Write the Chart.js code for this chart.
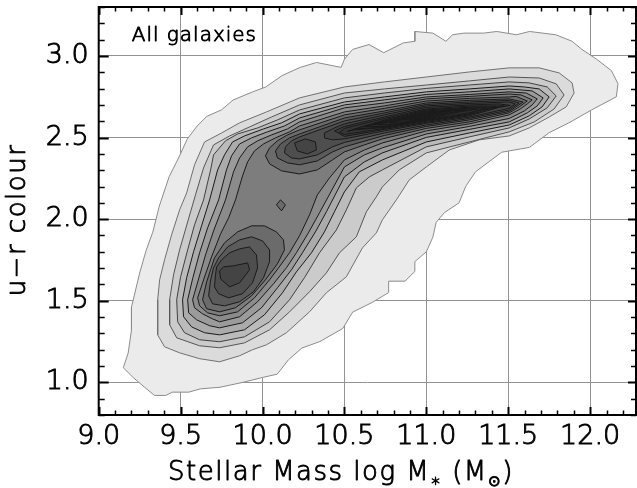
<!DOCTYPE html>
<html><head><meta charset="utf-8">
<style>html,body{margin:0;padding:0;background:#fff;}canvas{display:block;}</style>
<script src="https://cdn.jsdelivr.net/npm/chart.js@4.4.1/dist/chart.umd.min.js"></script>
</head><body>
<canvas id="c" width="637" height="488"></canvas>
<script>
// ---- tick labels / texts ----
const xTicks = [9.0, 9.5, 10.0, 10.5, 11.0, 11.5, 12.0];
const yTicks = [1.0, 1.5, 2.0, 2.5, 3.0];
const panelLabel = 'All galaxies';
const yTitle = 'u\u2212r colour';

// ---- contour polygons (stellar mass, u-r colour) ----
const level1 = [[9.15,1.09],[9.21,1.03],[9.28,0.97],[9.34,0.92],[9.41,0.92],[9.45,0.94],[9.55,0.94],[9.62,0.96],[9.74,0.97],[9.88,1.00],[10.00,1.03],[10.09,1.05],[10.16,1.14],[10.24,1.21],[10.35,1.25],[10.49,1.33],[10.55,1.43],[10.67,1.49],[10.77,1.55],[10.77,1.62],[10.87,1.62],[10.93,1.68],[10.93,1.74],[11.00,1.80],[11.04,1.89],[11.06,1.98],[11.11,2.04],[11.20,2.10],[11.24,2.20],[11.30,2.29],[11.46,2.41],[11.63,2.44],[11.75,2.53],[11.87,2.59],[12.01,2.67],[12.16,2.75],[12.17,2.83],[12.13,2.91],[12.04,2.98],[11.95,3.04],[11.89,3.09],[11.79,3.13],[11.63,3.15],[11.55,3.13],[11.43,3.15],[11.35,3.14],[11.23,3.14],[11.16,3.13],[11.12,3.09],[11.04,3.14],[10.93,3.15],[10.93,3.09],[10.86,3.08],[10.74,3.02],[10.65,3.07],[10.55,3.04],[10.50,2.98],[10.48,2.93],[10.33,2.96],[10.23,2.93],[10.12,2.88],[10.02,2.81],[9.94,2.78],[9.82,2.73],[9.75,2.67],[9.66,2.63],[9.60,2.57],[9.54,2.49],[9.49,2.38],[9.43,2.26],[9.37,2.08],[9.33,1.92],[9.29,1.81],[9.25,1.67],[9.20,1.46],[9.20,1.32],[9.18,1.18]];
const level2 = [[11.902,2.773],[11.890,2.835],[11.811,2.896],[11.689,2.927],[11.506,2.927],[11.262,2.902],[11.000,2.871],[10.744,2.841],[10.500,2.810],[10.226,2.743],[10.024,2.657],[9.860,2.590],[9.750,2.528],[9.646,2.473],[9.585,2.333],[9.537,2.161],[9.494,2.057],[9.445,1.904],[9.402,1.751],[9.372,1.628],[9.360,1.506],[9.360,1.291],[9.402,1.218],[9.494,1.181],[9.616,1.145],[9.738,1.126],[9.860,1.163],[9.939,1.200],[10.024,1.230],[10.146,1.304],[10.287,1.432],[10.390,1.549],[10.512,1.647],[10.610,1.824],[10.695,1.916],[10.732,1.996],[10.817,2.118],[10.896,2.241],[11.000,2.320],[11.140,2.424],[11.323,2.486],[11.506,2.510],[11.628,2.559],[11.750,2.626],[11.854,2.688]];
const level3 = [[11.841,2.761],[11.793,2.829],[11.689,2.865],[11.506,2.871],[11.262,2.847],[11.000,2.822],[10.744,2.798],[10.500,2.773],[10.226,2.700],[10.055,2.626],[9.921,2.565],[9.799,2.510],[9.701,2.455],[9.640,2.314],[9.591,2.149],[9.543,1.983],[9.494,1.812],[9.457,1.659],[9.433,1.506],[9.433,1.353],[9.476,1.273],[9.616,1.224],[9.738,1.212],[9.890,1.242],[10.043,1.322],[10.165,1.432],[10.287,1.555],[10.390,1.671],[10.470,1.794],[10.573,1.892],[10.634,2.045],[10.695,2.137],[10.732,2.198],[10.835,2.302],[11.000,2.406],[11.262,2.473],[11.506,2.535],[11.659,2.596],[11.780,2.675]];
const level4 = [[11.793,2.755],[11.738,2.810],[11.628,2.835],[11.506,2.841],[11.262,2.822],[11.000,2.801],[10.744,2.773],[10.500,2.743],[10.226,2.669],[10.091,2.608],[9.970,2.559],[9.848,2.522],[9.774,2.480],[9.701,2.394],[9.683,2.302],[9.640,2.118],[9.585,1.965],[9.543,1.812],[9.500,1.647],[9.476,1.506],[9.482,1.371],[9.524,1.304],[9.616,1.261],[9.738,1.249],[9.890,1.279],[10.043,1.371],[10.165,1.506],[10.256,1.641],[10.348,1.794],[10.451,1.934],[10.512,2.057],[10.573,2.192],[10.652,2.259],[10.732,2.302],[11.000,2.443],[11.262,2.504],[11.506,2.559],[11.628,2.614],[11.738,2.682]];
const level5 = [[11.750,2.749],[11.689,2.798],[11.598,2.810],[11.506,2.816],[11.262,2.798],[11.000,2.780],[10.744,2.749],[10.500,2.718],[10.226,2.645],[10.116,2.590],[10.006,2.553],[9.890,2.510],[9.817,2.473],[9.768,2.394],[9.726,2.302],[9.677,2.118],[9.628,1.959],[9.579,1.800],[9.537,1.641],[9.512,1.506],[9.518,1.402],[9.567,1.340],[9.646,1.304],[9.738,1.291],[9.890,1.322],[10.012,1.414],[10.122,1.549],[10.207,1.677],[10.299,1.794],[10.378,1.922],[10.439,2.045],[10.500,2.167],[10.591,2.290],[10.732,2.363],[11.000,2.473],[11.262,2.528],[11.506,2.577],[11.628,2.633],[11.707,2.688]];
const level6 = [[11.713,2.743],[11.646,2.786],[11.506,2.798],[11.262,2.780],[11.000,2.764],[10.744,2.731],[10.500,2.700],[10.226,2.620],[10.134,2.571],[10.030,2.535],[9.933,2.498],[9.860,2.461],[9.811,2.388],[9.780,2.302],[9.732,2.118],[9.665,1.947],[9.616,1.794],[9.573,1.634],[9.543,1.506],[9.549,1.426],[9.598,1.383],[9.677,1.347],[9.738,1.334],[9.878,1.365],[9.994,1.457],[10.091,1.579],[10.177,1.690],[10.244,1.794],[10.323,1.922],[10.390,2.045],[10.500,2.259],[10.622,2.351],[10.732,2.406],[11.000,2.501],[11.262,2.550],[11.506,2.596],[11.616,2.651],[11.677,2.694]];
const level7 = [[11.677,2.737],[11.610,2.773],[11.506,2.780],[11.262,2.764],[11.000,2.749],[10.744,2.712],[10.500,2.682],[10.226,2.596],[10.152,2.553],[10.055,2.516],[9.970,2.480],[9.909,2.443],[9.860,2.375],[9.823,2.290],[9.774,2.118],[9.701,1.928],[9.652,1.781],[9.610,1.634],[9.573,1.506],[9.585,1.457],[9.634,1.420],[9.695,1.389],[9.738,1.371],[9.860,1.402],[9.970,1.494],[10.067,1.604],[10.146,1.702],[10.207,1.794],[10.280,1.916],[10.348,2.039],[10.500,2.320],[10.622,2.394],[10.732,2.437],[11.000,2.522],[11.262,2.568],[11.506,2.617],[11.598,2.663],[11.646,2.700]];
const level8 = [[11.646,2.731],[11.579,2.761],[11.506,2.767],[11.262,2.752],[11.000,2.737],[10.744,2.694],[10.500,2.657],[10.226,2.571],[10.165,2.535],[10.079,2.498],[10.006,2.461],[9.951,2.418],[9.909,2.351],[9.878,2.265],[9.835,2.118],[9.793,2.008],[9.744,1.910],[9.689,1.769],[9.640,1.628],[9.604,1.518],[9.616,1.469],[9.665,1.426],[9.738,1.408],[9.848,1.432],[9.951,1.518],[10.043,1.628],[10.116,1.726],[10.165,1.794],[10.226,1.898],[10.287,2.026],[10.335,2.149],[10.409,2.253],[10.500,2.363],[10.622,2.424],[10.732,2.467],[11.000,2.541],[11.262,2.584],[11.506,2.639],[11.573,2.675],[11.616,2.706]];
const blue9 = [[9.659,1.616],[9.634,1.506],[9.659,1.451],[9.738,1.432],[9.835,1.457],[9.933,1.530],[10.018,1.628],[10.091,1.726],[10.134,1.812],[10.128,1.873],[10.085,1.922],[10.012,1.959],[9.933,1.959],[9.848,1.922],[9.768,1.855],[9.707,1.763],[9.683,1.690]];
const red9 = [[11.616,2.724],[11.549,2.752],[11.506,2.749],[11.262,2.740],[11.000,2.724],[10.744,2.679],[10.500,2.639],[10.226,2.547],[10.152,2.516],[10.091,2.480],[10.043,2.437],[10.018,2.388],[10.043,2.339],[10.116,2.296],[10.226,2.277],[10.335,2.302],[10.427,2.363],[10.500,2.412],[10.622,2.455],[10.732,2.492],[11.000,2.556],[11.262,2.596],[11.506,2.651],[11.567,2.688]];
const island9 = [[10.085,2.088],[10.110,2.118],[10.140,2.088],[10.116,2.051]];
const blue10 = [[9.701,1.702],[9.683,1.628],[9.671,1.530],[9.695,1.481],[9.768,1.469],[9.860,1.494],[9.945,1.555],[10.006,1.641],[10.043,1.739],[10.043,1.812],[10.000,1.867],[9.933,1.892],[9.860,1.873],[9.787,1.830],[9.732,1.763]];
const red10 = [[11.591,2.718],[11.506,2.737],[11.262,2.728],[11.000,2.712],[10.744,2.663],[10.500,2.620],[10.226,2.522],[10.165,2.498],[10.110,2.461],[10.079,2.418],[10.091,2.375],[10.152,2.345],[10.226,2.333],[10.335,2.357],[10.427,2.412],[10.500,2.443],[10.744,2.513],[11.000,2.568],[11.262,2.608],[11.506,2.660]];
const blue11 = [[9.713,1.659],[9.707,1.585],[9.732,1.543],[9.793,1.518],[9.878,1.543],[9.939,1.610],[9.970,1.702],[9.963,1.781],[9.921,1.830],[9.860,1.818],[9.799,1.794],[9.750,1.751],[9.720,1.708]];
const red11 = [[11.567,2.712],[11.506,2.728],[11.262,2.718],[11.000,2.703],[10.744,2.651],[10.500,2.602],[10.226,2.504],[10.177,2.480],[10.140,2.443],[10.134,2.406],[10.177,2.375],[10.226,2.369],[10.335,2.394],[10.427,2.443],[10.500,2.470],[10.744,2.528],[11.000,2.577],[11.262,2.617],[11.506,2.669]];
const blue12 = [[9.738,1.683],[9.744,1.634],[9.799,1.585],[9.860,1.610],[9.921,1.690],[9.909,1.732],[9.823,1.714],[9.762,1.708]];
const redPeak12 = [[10.195,2.467],[10.213,2.418],[10.274,2.400],[10.329,2.424],[10.323,2.473],[10.262,2.492]];
const red12 = [[10.378,2.528],[10.439,2.559],[10.500,2.584],[10.744,2.639],[11.000,2.694],[11.262,2.709],[11.506,2.718],[11.543,2.706],[11.506,2.679],[11.262,2.625],[11.000,2.587],[10.744,2.541],[10.500,2.492],[10.427,2.486],[10.378,2.498]];
const red13 = [[10.439,2.541],[10.500,2.568],[10.744,2.626],[11.000,2.685],[11.262,2.700],[11.445,2.706],[11.512,2.697],[11.445,2.685],[11.262,2.633],[11.000,2.593],[10.744,2.550],[10.500,2.507]];
const red14 = [[10.470,2.532],[10.500,2.556],[10.744,2.617],[11.000,2.675],[11.262,2.693],[11.476,2.694],[11.384,2.675],[11.262,2.639],[11.000,2.599],[10.744,2.556],[10.500,2.519]];
const red15 = [[10.518,2.538],[10.744,2.608],[11.000,2.669],[11.262,2.686],[11.427,2.688],[11.323,2.666],[11.262,2.645],[11.000,2.605],[10.744,2.562],[10.561,2.547]];
const red16 = [[10.561,2.553],[10.744,2.602],[11.000,2.663],[11.262,2.680],[11.372,2.682],[11.262,2.651],[11.000,2.608],[10.744,2.565],[10.622,2.556]];
const red17 = [[10.622,2.568],[10.744,2.596],[11.000,2.657],[11.201,2.674],[11.311,2.675],[11.201,2.657],[11.000,2.611],[10.744,2.568]];
const red18 = [[10.683,2.581],[10.744,2.590],[11.000,2.651],[11.140,2.663],[11.238,2.669],[11.140,2.651],[11.000,2.617],[10.805,2.577]];
const red19 = [[10.774,2.590],[11.000,2.645],[11.152,2.663],[11.000,2.623],[10.835,2.587]];
const red20 = [[10.866,2.611],[11.000,2.640],[11.079,2.654],[11.000,2.630],[10.896,2.608]];

// [contour level, polygon]
const contours = [
  [1, level1], [2, level2], [3, level3], [4, level4], [5, level5], [6, level6], [7, level7], [8, level8],
  [9, blue9], [9, red9], [9, island9],
  [10, blue10], [10, red10],
  [11, blue11], [11, red11],
  [12, blue12], [12, redPeak12], [12, red12],
  [13, red13], [14, red14], [15, red15], [16, red16], [17, red17], [18, red18], [19, red19], [20, red20]
];

// ---- styles ----
const fillShades = ['#ebebeb','#dbdbdb','#cbcbcb','#bbbbbb','#ababab','#9b9b9b','#8b8b8b','#7d7d7d','#6b6b6b','#5b5b5b','#4e4e4e','#444444','#3c3c3c','#363636','#313131','#2d2d2d','#2a2a2a','#272727','#242424','#222222'];
const lineShades = ['#8c8c8c','#707070','#555555','#404040'];
const FONT = '"DejaVu Sans", "Liberation Sans", sans-serif';
const W = '200';
const STROKE = 0.9;

const datasets = contours.map(([lvl, pts]) => ({
  data: pts.concat([pts[0]]).map(([x, y]) => ({x, y})),
  fill: 'shape',
  backgroundColor: fillShades[lvl - 1],
  borderColor: lvl <= lineShades.length ? lineShades[lvl - 1] : '#1a1a1a',
  borderWidth: 1,
  pointRadius: 0,
  tension: 0,
  order: 100 - lvl
}));

function strokedText(ctx, t, x, y) {
  ctx.fillText(t, x, y);
  ctx.lineWidth = STROKE;
  ctx.strokeText(t, x, y);
}

const framePlugin = {
  id: 'frame',
  afterDraw(chart) {
    const {ctx, chartArea: a, scales: {x, y}} = chart;
    ctx.save();
    ctx.strokeStyle = '#000';
    ctx.lineCap = 'butt';
    for (let i = 90; i <= 122; i++) {
      const px = Math.round(x.getPixelForValue(i / 10)) + 0.5;
      const major = i % 5 === 0;
      const len = major ? 8 : 4.5;
      ctx.lineWidth = major ? 2 : 1.5;
      ctx.beginPath();
      ctx.moveTo(px, a.bottom); ctx.lineTo(px, a.bottom - len);
      ctx.moveTo(px, a.top); ctx.lineTo(px, a.top + len);
      ctx.stroke();
    }
    for (let i = 8; i <= 33; i++) {
      const py = Math.round(y.getPixelForValue(i / 10)) + 0.5;
      const major = i % 5 === 0;
      ctx.lineWidth = major ? 2 : 1.5;
      ctx.beginPath();
      ctx.moveTo(a.left, py); ctx.lineTo(a.left + (major ? 10 : 6), py);
      ctx.moveTo(a.right, py); ctx.lineTo(a.right - (major ? 8 : 5), py);
      ctx.stroke();
    }
    ctx.lineWidth = 2;
    ctx.strokeRect(a.left, a.top, a.right - a.left, a.bottom - a.top);

    ctx.fillStyle = '#000';
    ctx.strokeStyle = '#000';
    ctx.lineJoin = 'round';
    ctx.textBaseline = 'alphabetic';
    ctx.font = W + ' 20px ' + FONT;
    ctx.letterSpacing = '1px';
    ctx.textAlign = 'left';
    strokedText(ctx, panelLabel, a.left + 33, a.top + 34);

    const parts = [
      {t: 'Stellar Mass log M', s: 26, dy: 0},
      {t: '\u2217', s: 17, dy: 6},
      {t: ' (M', s: 26, dy: 0},
      {t: '\u2299', s: 15, dy: 6},
      {t: ')', s: 26, dy: 0}
    ];
    ctx.letterSpacing = '1.5px';
    let total = 0;
    parts.forEach(p => { ctx.font = W + ' ' + p.s + 'px ' + FONT; p.w = ctx.measureText(p.t).width; total += p.w; });
    let cx = 341 - total / 2;
    parts.forEach(p => { ctx.font = W + ' ' + p.s + 'px ' + FONT; strokedText(ctx, p.t, cx, 480 + p.dy); cx += p.w; });

    ctx.save();
    ctx.translate(25, 220);
    ctx.rotate(-Math.PI / 2);
    ctx.textAlign = 'center';
    ctx.font = W + ' 26px ' + FONT;
    strokedText(ctx, yTitle, 0, 0);
    ctx.restore();
    ctx.restore();
  }
};

Chart.defaults.font.family = FONT;
const tickFont = {size: 27, weight: W};
new Chart(document.getElementById('c'), {
  type: 'line',
  data: {datasets},
  plugins: [framePlugin],
  options: {
    responsive: false,
    animation: false,
    events: [],
    layout: {padding: {top: 7, right: 1, left: 0, bottom: 0}},
    plugins: {legend: {display: false}, tooltip: {enabled: false}},
    scales: {
      x: {
        type: 'linear', min: 9.0, max: 12.28, z: 1,
        afterFit: s => { s.height = 73; s.paddingLeft = 0; s.paddingRight = 0; },
        afterBuildTicks: s => { s.ticks = xTicks.map(v => ({value: v})); },
        grid: {color: '#939393', lineWidth: 1, drawTicks: false},
        border: {display: false},
        ticks: {font: tickFont, color: '#000', textStrokeColor: '#000', textStrokeWidth: STROKE,
                padding: 6, maxRotation: 0, autoSkip: false, callback: v => Number(v).toFixed(1)}
      },
      y: {
        type: 'linear', min: 0.8, max: 3.3, z: 1,
        afterFit: s => { s.width = 98.7; s.paddingTop = 0; s.paddingBottom = 0; },
        afterBuildTicks: s => { s.ticks = yTicks.map(v => ({value: v})); },
        grid: {color: '#939393', lineWidth: 1, drawTicks: false},
        border: {display: false},
        ticks: {font: tickFont, color: '#000', textStrokeColor: '#000', textStrokeWidth: STROKE,
                padding: 10, autoSkip: false, callback: v => Number(v).toFixed(1)}
      }
    }
  }
});
</script>
</body></html>
